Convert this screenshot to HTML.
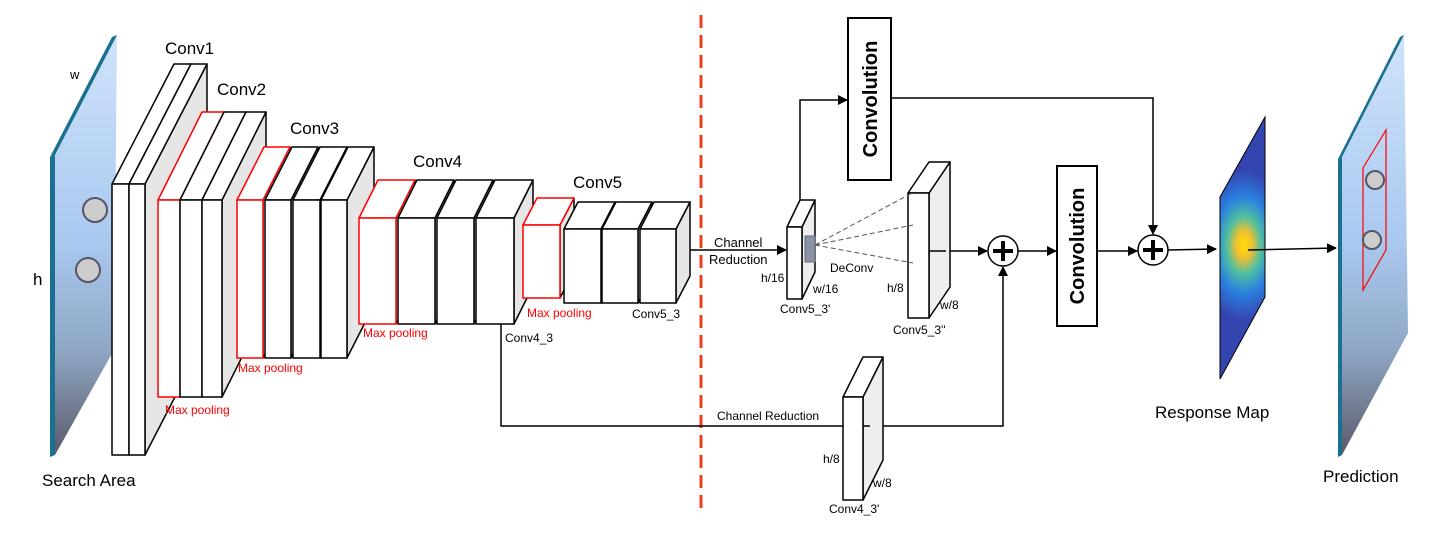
<!DOCTYPE html>
<html><head><meta charset="utf-8"><style>
html,body{margin:0;padding:0;background:#fff;}
svg{display:block;}
text{font-family:"Liberation Sans",Arial,sans-serif;}
</style></head><body>
<svg width="1437" height="538" viewBox="0 0 1437 538" xmlns="http://www.w3.org/2000/svg">
<defs>
<linearGradient id="sky" x1="0" y1="0" x2="0" y2="1">
<stop offset="0" stop-color="#cfe3fb"/><stop offset="0.5" stop-color="#a9c8ef"/><stop offset="0.75" stop-color="#8fa7c4"/><stop offset="1" stop-color="#5a5a6a"/>
</linearGradient>
<radialGradient id="heat" gradientUnits="userSpaceOnUse" cx="1244" cy="245" r="75" gradientTransform="translate(1244 245) scale(0.6 1) translate(-1244 -245)">
<stop offset="0" stop-color="#ffe000"/><stop offset="0.18" stop-color="#f0c030"/><stop offset="0.38" stop-color="#50c0a0"/><stop offset="0.65" stop-color="#2a80e0"/><stop offset="1" stop-color="#3545b0"/>
</radialGradient>
<marker id="ah" markerWidth="10" markerHeight="10" refX="9" refY="5" orient="auto" markerUnits="userSpaceOnUse">
<path d="M0,0 L10,5 L0,10 z" fill="#000"/></marker>
</defs>

<polygon points="55,155 117,35 114,350 55,455" fill="url(#sky)"/>
<polygon points="50,157 55,155 55,455 50,457" fill="#1a7090"/>
<polygon points="50,157 112,37 117,35 55,155" fill="#1a7090"/>
<circle cx="95" cy="210" r="12" fill="#ccc" stroke="#556" stroke-width="2"/>
<circle cx="88" cy="270" r="12" fill="#ccc" stroke="#556" stroke-width="2"/>
<text x="70" y="79" font-size="13">w</text>
<text x="33" y="285" font-size="17">h</text>
<text x="42" y="486" font-size="17">Search Area</text>

<g stroke="#000" stroke-width="1.5" stroke-linejoin="round">
<polygon points="129,184 191,64 191,335 129,455" fill="#e6e6e6"/>
<polygon points="112,184 174,64 191,64 129,184" fill="#fff"/>
<rect x="112" y="184" width="17" height="271" fill="#fff"/>
<polygon points="145,184 207,64 207,335 145,455" fill="#e6e6e6"/>
<polygon points="129,184 191,64 207,64 145,184" fill="#fff"/>
<rect x="129" y="184" width="16" height="271" fill="#fff"/>
<polygon points="180,200 224,112 224,309 180,397" fill="#e6e6e6"/>
<polygon points="158,200 202,112 224,112 180,200" fill="#fff" stroke="#f00"/>
<rect x="158" y="200" width="22" height="197" fill="#fff" stroke="#f00"/>
<polygon points="202,200 246,112 246,309 202,397" fill="#e6e6e6"/>
<polygon points="180,200 224,112 246,112 202,200" fill="#fff"/>
<rect x="180" y="200" width="22" height="197" fill="#fff"/>
<polygon points="222,200 266,112 266,309 222,397" fill="#e6e6e6"/>
<polygon points="202,200 246,112 266,112 222,200" fill="#fff"/>
<rect x="202" y="200" width="20" height="197" fill="#fff"/>
<polygon points="263,200 290,147 290,305 263,358" fill="#e6e6e6"/>
<polygon points="237,200 264,147 290,147 263,200" fill="#fff" stroke="#f00"/>
<rect x="237" y="200" width="26" height="158" fill="#fff" stroke="#f00"/>
<polygon points="291,200 318,147 318,305 291,358" fill="#e6e6e6"/>
<polygon points="265,200 292,147 318,147 291,200" fill="#fff"/>
<rect x="265" y="200" width="26" height="158" fill="#fff"/>
<polygon points="320,200 347,147 347,305 320,358" fill="#e6e6e6"/>
<polygon points="293,200 320,147 347,147 320,200" fill="#fff"/>
<rect x="293" y="200" width="27" height="158" fill="#fff"/>
<polygon points="347,200 374,147 374,305 347,358" fill="#e6e6e6"/>
<polygon points="321,200 348,147 374,147 347,200" fill="#fff"/>
<rect x="321" y="200" width="26" height="158" fill="#fff"/>
<polygon points="396,218 415,180 415,286 396,324" fill="#e6e6e6"/>
<polygon points="359,218 378,180 415,180 396,218" fill="#fff" stroke="#f00"/>
<rect x="359" y="218" width="37" height="106" fill="#fff" stroke="#f00"/>
<polygon points="435,218 454,180 454,286 435,324" fill="#e6e6e6"/>
<polygon points="398,218 417,180 454,180 435,218" fill="#fff"/>
<rect x="398" y="218" width="37" height="106" fill="#fff"/>
<polygon points="474,218 493,180 493,286 474,324" fill="#e6e6e6"/>
<polygon points="437,218 456,180 493,180 474,218" fill="#fff"/>
<rect x="437" y="218" width="37" height="106" fill="#fff"/>
<polygon points="514,218 533,180 533,286 514,324" fill="#e6e6e6"/>
<polygon points="476,218 495,180 533,180 514,218" fill="#fff"/>
<rect x="476" y="218" width="38" height="106" fill="#fff"/>
<polygon points="560,225 574,198 574,271 560,298" fill="#e6e6e6"/>
<polygon points="523,225 537,198 574,198 560,225" fill="#fff" stroke="#f00"/>
<rect x="523" y="225" width="37" height="73" fill="#fff" stroke="#f00"/>
<polygon points="601,229 615,202 615,276 601,303" fill="#e6e6e6"/>
<polygon points="564,229 578,202 615,202 601,229" fill="#fff"/>
<rect x="564" y="229" width="37" height="74" fill="#fff"/>
<polygon points="638,229 652,202 652,276 638,303" fill="#e6e6e6"/>
<polygon points="602,229 616,202 652,202 638,229" fill="#fff"/>
<rect x="602" y="229" width="36" height="74" fill="#fff"/>
<polygon points="676,229 690,202 690,276 676,303" fill="#e6e6e6"/>
<polygon points="640,229 654,202 690,202 676,229" fill="#fff"/>
<rect x="640" y="229" width="36" height="74" fill="#fff"/>
</g>

<g font-size="17" fill="#000">
<text x="165" y="54">Conv1</text>
<text x="217" y="95">Conv2</text>
<text x="290" y="134">Conv3</text>
<text x="413" y="167">Conv4</text>
<text x="573" y="188">Conv5</text>
</g>
<g font-size="12" fill="#f00">
<text x="165" y="414">Max pooling</text>
<text x="238" y="372">Max pooling</text>
<text x="363" y="337">Max pooling</text>
<text x="527" y="317">Max pooling</text>
</g>
<g font-size="12" fill="#000">
<text x="632" y="318">Conv5_3</text>
<text x="505" y="342">Conv4_3</text>
</g>

<line x1="701" y1="15" x2="701" y2="515" stroke="#e8401c" stroke-width="3" stroke-dasharray="13,7"/>

<g stroke="#000" stroke-width="1.5" fill="none">
<line x1="690" y1="250" x2="786" y2="250" marker-end="url(#ah)"/>
<polyline points="501,324 501,426 843,426"/>
<polyline points="870,426 1003,426 1003,267" marker-end="url(#ah)"/>
<polyline points="800,212 800,100 847,100" marker-end="url(#ah)"/>
<polyline points="891,98 1153,98 1153,234" marker-end="url(#ah)"/>
<line x1="944" y1="251" x2="987" y2="251" marker-end="url(#ah)"/>
<line x1="1018" y1="251" x2="1056" y2="251" marker-end="url(#ah)"/>
<line x1="1097" y1="251" x2="1137" y2="251" marker-end="url(#ah)"/>
<line x1="1168" y1="250" x2="1216" y2="249" marker-end="url(#ah)"/>
</g>

<g stroke="#000" stroke-width="1.5" stroke-linejoin="round">
<polygon points="802,227 815,200 815,272 802,299" fill="#eee"/>
<polygon points="787,227 800,200 815,200 802,227" fill="#fff"/>
<rect x="787" y="227" width="15" height="72" fill="#fff"/>
<polygon points="929,193 950,162 950,287 929,318" fill="#eee"/>
<polygon points="908,193 929,162 950,162 929,193" fill="#fff"/>
<rect x="908" y="193" width="21" height="125" fill="#fff"/>
<polygon points="863,397 883,357 883,460 863,500" fill="#eee"/>
<polygon points="843,397 863,357 883,357 863,397" fill="#fff"/>
<rect x="843" y="397" width="20" height="103" fill="#fff"/>
</g>
<rect x="805" y="236" width="10" height="26" fill="#8a94a6" stroke="#667" stroke-width="1"/>
<g stroke="#555" stroke-width="1" stroke-dasharray="5,3">
<line x1="815" y1="245" x2="912" y2="193"/>
<line x1="815" y1="245" x2="913" y2="225"/>
<line x1="815" y1="245" x2="913" y2="263"/>
</g>
<line x1="946" y1="251" x2="929" y2="251" stroke="#000" stroke-width="1.5"/>
<line x1="870" y1="426" x2="863" y2="426" stroke="#000" stroke-width="1.5"/>

<g font-size="13" fill="#000">
<text x="714" y="247">Channel</text>
<text x="709" y="264">Reduction</text>
</g>
<g font-size="12" fill="#000">
<text x="761" y="282">h/16</text>
<text x="813" y="293">w/16</text>
<text x="780" y="313">Conv5_3'</text>
<text x="830" y="272">DeConv</text>
<text x="887" y="292">h/8</text>
<text x="940" y="309">w/8</text>
<text x="893" y="334">Conv5_3''</text>
<text x="717" y="420">Channel Reduction</text>
<text x="823" y="463">h/8</text>
<text x="873" y="487">w/8</text>
<text x="829" y="513">Conv4_3'</text>
</g>

<rect x="848" y="18" width="43" height="162" fill="#fff" stroke="#000" stroke-width="2"/>
<text transform="translate(877,99) rotate(-90)" text-anchor="middle" font-size="20" font-weight="bold">Convolution</text>
<rect x="1057" y="166" width="40" height="160" fill="#fff" stroke="#000" stroke-width="2"/>
<text transform="translate(1084,246) rotate(-90)" text-anchor="middle" font-size="20" font-weight="bold">Convolution</text>

<g stroke="#000" fill="#fff">
<circle cx="1003" cy="251" r="15" stroke-width="1.5"/>
<circle cx="1153" cy="250" r="15" stroke-width="1.5"/>
</g>
<g stroke="#000" stroke-width="4">
<line x1="993" y1="251" x2="1013" y2="251"/><line x1="1003" y1="241" x2="1003" y2="261"/>
<line x1="1143" y1="250" x2="1163" y2="250"/><line x1="1153" y1="240" x2="1153" y2="260"/>
</g>

<polygon points="1220,197 1265,117 1265,297 1220,379" fill="url(#heat)" stroke="#000" stroke-width="1"/>
<line x1="1248" y1="250" x2="1336" y2="248" stroke="#000" stroke-width="1.5" marker-end="url(#ah)"/>
<text x="1155" y="418" font-size="17">Response Map</text>

<polygon points="1342,157 1404,35 1408,333 1342,455" fill="url(#sky)"/>
<polygon points="1338,159 1342,157 1342,455 1338,457" fill="#1a7090"/>
<polygon points="1338,159 1400,37 1404,35 1342,157" fill="#1a7090"/>
<polygon points="1363,168 1386,130 1386,250 1363,290" fill="none" stroke="#f00" stroke-width="1.2"/>
<circle cx="1375" cy="180" r="9" fill="#ccc" stroke="#556" stroke-width="2"/>
<circle cx="1372" cy="240" r="9" fill="#ccc" stroke="#556" stroke-width="2"/>
<text x="1323" y="482" font-size="17">Prediction</text>
</svg>
</body></html>
